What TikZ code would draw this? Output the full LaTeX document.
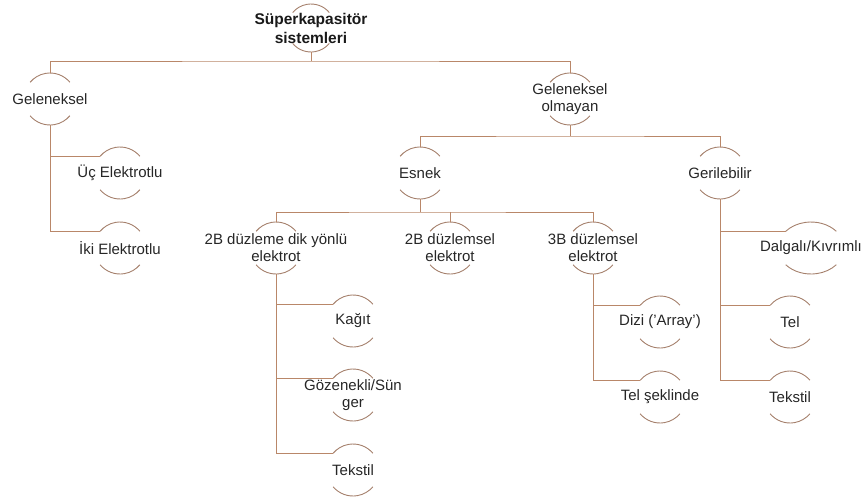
\documentclass[tikz,border=0pt]{standalone}
\usepackage{fontspec}
\setmainfont{Liberation Sans}
\begin{document}
\begin{tikzpicture}[x=1pt,y=1pt,
  lbl/.style={inner sep=0pt,align=center,font=\fontsize{15}{17}\selectfont,text=black!85},
  rootlbl/.style={inner sep=0pt,align=center,font=\fontsize{15.5}{19}\selectfont\bfseries,text=black!90},
  conn/.style={draw={rgb,255:red,185;green,135;blue,105},line width=0.9pt},
  arcst/.style={draw={rgb,255:red,165;green,128;blue,108},line width=0.9pt}]
\useasboundingbox (0,0) rectangle (864,-498);
\newcommand\brk[2][26]{%
  \draw[arcst] ([shift={(40:#1 and 26)}]#2.center) arc[start angle=40,end angle=140,x radius=#1,y radius=26];
  \draw[arcst] ([shift={(-140:#1 and 26)}]#2.center) arc[start angle=-140,end angle=-40,x radius=#1,y radius=26];}
% nodes
\node[rootlbl] (root) at (311,-28) {Süperkapasitör\\sistemleri};
\node[lbl] (gel) at (50,-99) {Geleneksel};
\node[lbl] (gol) at (570,-99) {Geleneksel\\olmayan};
\node[lbl] (uc) at (120,-173) {Üç Elektrotlu};
\node[lbl] (iki) at (120,-248) {İki Elektrotlu};
\node[lbl] (esnek) at (420,-173) {Esnek};
\node[lbl] (geril) at (720,-173) {Gerilebilir};
\node[lbl] (dik) at (276,-248) {2B düzleme dik yönlü\\elektrot};
\node[lbl] (duz) at (450,-248) {2B düzlemsel\\elektrot};
\node[lbl] (b3) at (593,-248) {3B düzlemsel\\elektrot};
\node[lbl] (dalga) at (811,-248) {Dalgalı/Kıvrımlı};
\node[lbl] (kagit) at (353,-321) {Kağıt};
\node[lbl] (gozen) at (353,-395) {Gözenekli/Sün\\ger};
\node[lbl] (tekA) at (353,-470) {Tekstil};
\node[lbl] (dizi) at (660,-322) {Dizi ('Array')};
\node[lbl] (telsek) at (660,-397) {Tel şeklinde};
\node[lbl] (tel) at (790,-322) {Tel};
\node[lbl] (tekB) at (790,-397) {Tekstil};
% brackets
\draw[arcst] ([shift={(40:24)}]root.center) arc[start angle=40,end angle=140,radius=24];
\draw[arcst] ([shift={(-140:24)}]root.center) arc[start angle=-140,end angle=-40,radius=24];
\brk{gel}\brk{gol}\brk{uc}\brk{iki}\brk{esnek}\brk{geril}\brk{dik}\brk{duz}\brk{b3}
\brk[33]{dalga}\brk{kagit}\brk{gozen}\brk{tekA}\brk{dizi}\brk{telsek}\brk{tel}\brk{tekB}
% tree connectors
\draw[conn] ([yshift=-24pt]root.center) -- ++(0,-9) coordinate (bus1);
\draw[conn] ([yshift=26pt]gel.center) |- (bus1) -| ([yshift=26pt]gol.center);
\draw[conn] ([yshift=-26pt]gol.center) -- ++(0,-11) coordinate (bus2);
\draw[conn] ([yshift=26pt]esnek.center) |- (bus2) -| ([yshift=26pt]geril.center);
\draw[conn] ([yshift=-26pt]esnek.center) -- ++(0,-13) coordinate (bus3);
\draw[conn] ([yshift=26pt]dik.center) |- (bus3) -| ([yshift=26pt]b3.center);
\draw[conn] (bus3 -| duz.center) -- ([yshift=26pt]duz.center);
% side branches
\draw[conn] ([yshift=-26pt]gel.center) |- ([shift={(-20pt,17pt)}]iki.center);
\draw[conn] ([yshift=-26pt]gel.center) |- ([shift={(-20pt,17pt)}]uc.center);
\draw[conn] ([yshift=-26pt]dik.center) |- ([shift={(-20pt,17pt)}]tekA.center);
\draw[conn] ([yshift=-26pt]dik.center) |- ([shift={(-20pt,17pt)}]gozen.center);
\draw[conn] ([yshift=-26pt]dik.center) |- ([shift={(-20pt,17pt)}]kagit.center);
\draw[conn] ([yshift=-26pt]b3.center) |- ([shift={(-20pt,17pt)}]telsek.center);
\draw[conn] ([yshift=-26pt]b3.center) |- ([shift={(-20pt,17pt)}]dizi.center);
\draw[conn] ([yshift=-26pt]geril.center) |- ([shift={(-20pt,17pt)}]tekB.center);
\draw[conn] ([yshift=-26pt]geril.center) |- ([shift={(-20pt,17pt)}]tel.center);
\draw[conn] ([yshift=-26pt]geril.center) |- ([shift={(-25pt,17pt)}]dalga.center);
\end{tikzpicture}
\end{document}
